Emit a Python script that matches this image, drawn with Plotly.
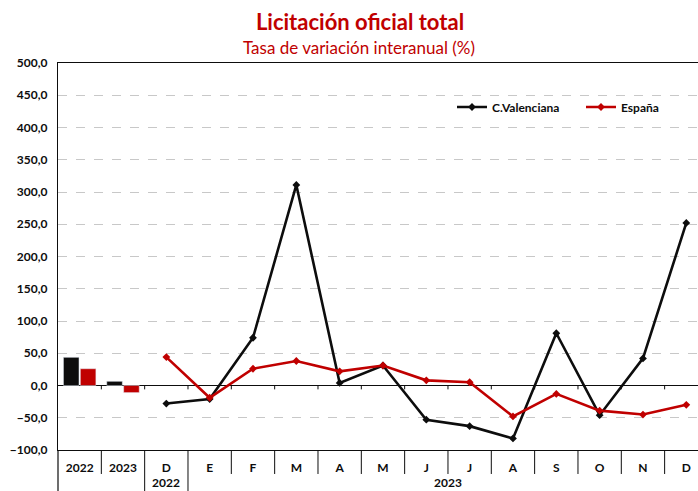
import plotly.graph_objects as go

# ---- data ----
categories = ["2022", "2023", "D", "E", "F", "M", "A", "M", "J", "J", "A", "S", "O", "N", "D"]
annual_years = ["2022", "2023"]
annual_valenciana = [43.7, 6.5]
annual_espana = [26.0, -11.0]
monthly_valenciana = [-28.0, -21.0, 74.0, 311.0, 4.0, 31.0, -53.0, -63.0, -82.0, 81.0, -46.0, 42.0, 252.0]
monthly_espana = [44.0, -19.0, 26.0, 38.0, 22.0, 31.0, 8.0, 5.0, -48.0, -13.0, -39.0, -45.0, -30.0]
group_labels = ["2022", "2023"]
group_centers = [2, 8.5]

BLACK = "#0d0d0d"
RED = "#c00000"
FONT = "Lato"

xi = list(range(len(categories)))
x_annual = xi[:2]
x_month = xi[2:]

fig = go.Figure()
fig.add_trace(go.Bar(x=x_annual, y=annual_valenciana, marker_color=BLACK, showlegend=False,
                     offsetgroup="a", hoverinfo="skip"))
fig.add_trace(go.Bar(x=x_annual, y=annual_espana, marker_color=RED, showlegend=False,
                     offsetgroup="b", hoverinfo="skip"))
fig.add_trace(go.Scatter(x=x_month, y=monthly_valenciana, mode="lines+markers", name="<b>C.Valenciana</b>",
                         line=dict(color=BLACK, width=2.6),
                         marker=dict(symbol="diamond", size=6, color=BLACK)))
fig.add_trace(go.Scatter(x=x_month, y=monthly_espana, mode="lines+markers", name="<b>España</b>",
                         line=dict(color=RED, width=2.6),
                         marker=dict(symbol="diamond", size=6, color=RED)))

shapes = []
# small tick marks on the zero line at category boundaries
for k in range(1, len(categories)):
    shapes.append(dict(type="line", xref="x", yref="y", x0=k - 0.5, x1=k - 0.5, y0=0, y1=-6,
                       line=dict(color=BLACK, width=1)))
# separators under the axis
for k in range(1, len(categories)):
    full = k in (2, 3)
    shapes.append(dict(type="line", xref="x", yref="paper", x0=k - 0.5, x1=k - 0.5,
                       y0=0, y1=(-0.106 if full else -0.062),
                       line=dict(color=BLACK, width=1)))
# left border extension
shapes.append(dict(type="line", xref="paper", yref="paper", x0=0, x1=0, y0=0, y1=-0.106,
                   line=dict(color=BLACK, width=1.2)))

annotations = []
for lbl, cx in zip(group_labels, group_centers):
    annotations.append(dict(text=f"<b>{lbl}</b>", x=cx, xref="x", y=-(482.5 - 450) / 387, yref="paper",
                            showarrow=False, font=dict(family=FONT, size=12, color=BLACK),
                            xanchor="center", yanchor="middle"))
annotations.append(dict(text="Tasa de variación interanual (%)", x=(359 - 58) / 640, xref="paper",
                        y=1 + (63 - 48) / 387, yref="paper", showarrow=False,
                        xanchor="center", yanchor="middle",
                        font=dict(family=FONT, size=17, color=RED)))

fig.update_layout(
    width=698, height=491,
    margin=dict(l=58, r=0, t=63, b=41, autoexpand=False),
    paper_bgcolor="white", plot_bgcolor="white",
    title=dict(text="<b>Licitación oficial total</b>", x=360 / 698, xanchor="center",
               y=1 - 22 / 491, yanchor="middle", xref="container", yref="container",
               font=dict(family=FONT, size=22, color=RED)),
    barmode="group", bargap=0.22, bargroupgap=0.08,
    separators=",.",
    showlegend=True,
    legend=dict(orientation="h", x=(452 - 58) / 640, y=(450 - 107) / 387, xanchor="left", yanchor="middle",
                font=dict(family=FONT, size=12, color=BLACK), bgcolor="rgba(0,0,0,0)",
                itemwidth=30, entrywidth=84, entrywidthmode="pixels"),
    shapes=shapes,
    annotations=annotations,
    xaxis=dict(range=[-0.5, 14.27], tickmode="array", tickvals=xi,
               ticktext=[f"<b>{c}</b>" for c in categories],
               tickfont=dict(family=FONT, size=12, color=BLACK),
               showgrid=False, zeroline=False, showline=True, mirror=True, automargin=False,
               linecolor=BLACK, linewidth=1.3, ticks="", ticklabelstandoff=6),
    yaxis=dict(range=[-100, 500], dtick=50, tickformat=".1f", automargin=False,
               tickfont=dict(family=FONT, size=12, color=BLACK),
               showgrid=True, gridcolor="#c8c8c8", griddash="dash", gridwidth=1,
               zeroline=True, zerolinecolor=BLACK, zerolinewidth=1.3,
               showline=True, linecolor=BLACK, linewidth=1.3, ticks="", ticklabelstandoff=7,
               tickprefix="<b>", ticksuffix="</b>"),
)

fig.write_html("out.html", config={"displayModeBar": False},
               post_script="document.body.style.margin='0';document.body.style.overflow='hidden';")
